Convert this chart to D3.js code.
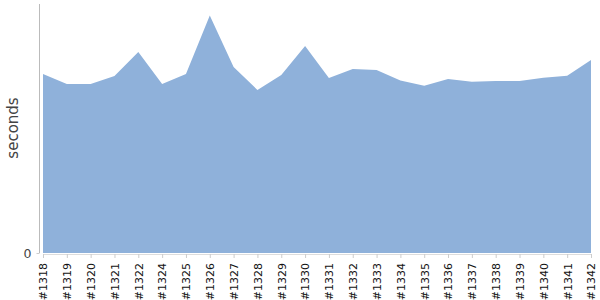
<!DOCTYPE html>
<html>
<head>
<meta charset="utf-8">
<script src="https://cdn.jsdelivr.net/npm/d3@7"></script>
<style>
  body { margin: 0; background: #fff; }
  svg { display: block; }
</style>
</head>
<body>
<div id="chart"></div>
<script>
// build numbers on the x axis
var builds = ["#1318", "#1319", "#1320", "#1321", "#1322", "#1324", "#1325", "#1326",
  "#1327", "#1328", "#1329", "#1330", "#1331", "#1332", "#1333", "#1334", "#1335",
  "#1336", "#1337", "#1338", "#1339", "#1340", "#1341", "#1342"];

// duration per build
var seconds = [17.97, 16.97, 16.97, 17.77, 20.18, 16.97, 17.97, 23.85,
  18.67, 16.37, 17.87, 20.78, 17.57, 18.47, 18.37, 17.32, 16.80,
  17.47, 17.20, 17.27, 17.27, 17.60, 17.80, 19.38];

var yTicks = [0];

var svgWidth = 600;
var svgHeight = 300;

var margin = { top: 4, right: 9, bottom: 47, left: 40 };

var chartWidth = svgWidth - margin.left - margin.right;
var chartHeight = svgHeight - margin.top - margin.bottom;

var svg = d3.select("#chart")
  .append("svg")
  .attr("width", svgWidth)
  .attr("height", svgHeight);

var chartGroup = svg.append("g")
  .attr("transform", `translate(${margin.left}, ${margin.top})`);

var data = builds.map(function(b, i) { return { build: b, value: seconds[i] }; });

// scales
var xScale = d3.scalePoint()
  .domain(builds)
  .range([3, chartWidth]);

var yScale = d3.scaleLinear()
  .domain([0, 25])
  .range([chartHeight, 0]);

// area
var area = d3.area()
  .x(d => xScale(d.build))
  .y0(yScale(0))
  .y1(d => yScale(d.value));

chartGroup.append("path")
  .datum(data)
  .attr("d", area)
  .attr("fill", "#8fb1da");

// x axis
var xAxis = chartGroup.append("g")
  .attr("transform", `translate(0, ${chartHeight + 1})`)
  .call(d3.axisBottom(xScale).tickSize(4).tickPadding(4));

xAxis.select(".domain").attr("stroke", "#ddd");
xAxis.selectAll(".tick line").attr("stroke", "#ccc");
xAxis.selectAll("text")
  .attr("transform", "rotate(-90)")
  .attr("text-anchor", "end")
  .attr("x", -9)
  .attr("y", 0)
  .attr("dy", "0.35em")
  .style("font-family", "DejaVu Sans")
  .style("font-size", "11px")
  .attr("fill", "#111");

// y axis
var yAxis = chartGroup.append("g")
  .attr("transform", "translate(-0.5, 0)")
  .call(d3.axisLeft(yScale).tickValues(yTicks).tickSize(3).tickPadding(5));

yAxis.select(".domain")
  .attr("d", `M0,0V${chartHeight}`)
  .attr("stroke", "#bbb");
yAxis.selectAll(".tick line").attr("stroke", "#ccc");
yAxis.selectAll("text")
  .style("font-family", "DejaVu Sans")
  .style("font-size", "12.5px")
  .attr("fill", "#444");

// y label
svg.append("text")
  .attr("transform", "rotate(-90)")
  .attr("x", -128)
  .attr("y", 18)
  .attr("text-anchor", "middle")
  .style("font-family", "DejaVu Sans")
  .style("font-size", "15px")
  .attr("fill", "#444")
  .text("seconds");
</script>
</body>
</html>
